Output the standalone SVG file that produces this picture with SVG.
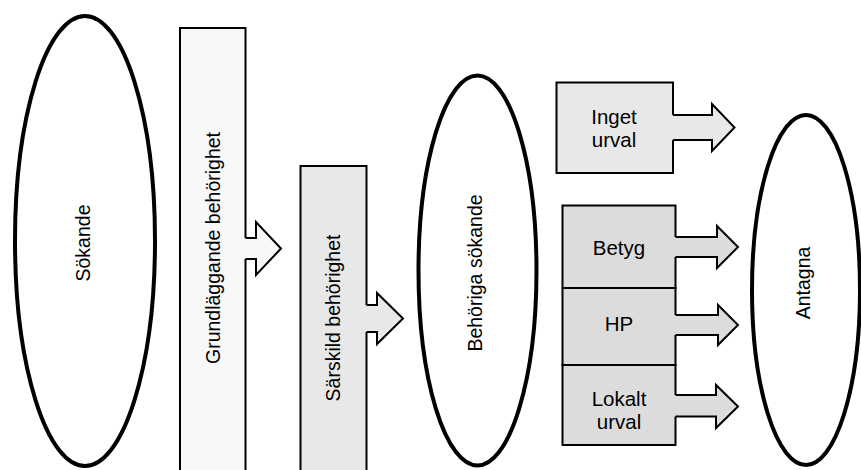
<svg xmlns="http://www.w3.org/2000/svg" width="861" height="470" viewBox="0 0 861 470">
<style>
.ell{fill:#fff;stroke:#000;stroke-width:4}
.box{stroke:#000;stroke-width:2}
.t{font-family:"Liberation Sans",Arial,sans-serif;font-size:19.5px;fill:#000;text-anchor:middle}
.h{font-size:20.5px}
.f1{fill:#f8f8f8}
.f2{fill:#e8e8e8}
.f3{fill:#dcdcdc}
.afill{stroke:none}
.aline{fill:none;stroke:#000;stroke-width:2;stroke-linejoin:miter}
</style>
<rect width="861" height="470" fill="#fff"/>
<g id="sokande">
<ellipse class="ell" cx="85" cy="241" rx="70" ry="225"/>
<text class="t" transform="translate(90,243) rotate(-90)">Sökande</text>
</g>
<g id="grund">
<rect class="box f1" x="180" y="28" width="65.5" height="460"/>
<text class="t" transform="translate(220,248) rotate(-90)">Grundläggande behörighet</text>
</g>
<g id="sarskild">
<rect class="box f2" x="300.5" y="166" width="66" height="320"/>
<text class="t" transform="translate(340,318) rotate(-90)">Särskild behörighet</text>
</g>
<g id="behoriga">
<ellipse class="ell" cx="477.5" cy="270.5" rx="59" ry="195"/>
<text class="t" transform="translate(482,273) rotate(-90)">Behöriga sökande</text>
</g>
<g id="inget">
<rect class="box f2" x="556.5" y="82.5" width="116.5" height="90.5"/>
<text class="t h" x="614" y="124">Inget</text>
<text class="t h" x="614" y="146.5">urval</text>
</g>
<g id="betyg">
<rect class="box f3" x="562.5" y="205.5" width="113" height="82.5"/>
<text class="t h" x="619" y="254.5">Betyg</text>
</g>
<g id="hp">
<rect class="box f3" x="562.5" y="288" width="113" height="77"/>
<text class="t h" x="619" y="331">HP</text>
</g>
<g id="lokalt">
<rect class="box f3" x="562.5" y="365" width="113" height="80"/>
<text class="t h" x="619" y="406">Lokalt</text>
<text class="t h" x="619" y="428.5">urval</text>
</g>
<g id="antagna">
<ellipse class="ell" cx="806" cy="290" rx="54" ry="175"/>
<text class="t" transform="translate(810,283) rotate(-90)">Antagna</text>
</g>
<g id="connectors">
<polygon class="afill f1" points="243,238 256,238 256,222 281,248.5 256,275 256,259 243,259"/>
<polyline class="aline" points="245.5,238 256,238 256,222 281,248.5 256,275 256,259 245.5,259"/>
<polygon class="afill f2" points="364.5,305 377,305 377,293 403,318.5 377,344 377,332 364.5,332"/>
<polyline class="aline" points="366.5,305 377,305 377,293 403,318.5 377,344 377,332 366.5,332"/>
<polygon class="afill f2" points="671,115 712,115 712,104 734.5,127.5 712,151 712,140 671,140"/>
<polyline class="aline" points="673,115 712,115 712,104 734.5,127.5 712,151 712,140 673,140"/>
<polygon class="afill f3" points="673.5,237 717,237 717,226 738,247 717,268 717,257 673.5,257"/>
<polyline class="aline" points="675.5,237 717,237 717,226 738,247 717,268 717,257 675.5,257"/>
<polygon class="afill f3" points="673.5,315 718,315 718,305 738,325 718,345 718,335 673.5,335"/>
<polyline class="aline" points="675.5,315 718,315 718,305 738,325 718,345 718,335 675.5,335"/>
<polygon class="afill f3" points="673.5,395 716,395 716,385 738,406.5 716,428 716,416.5 673.5,416.5"/>
<polyline class="aline" points="675.5,395 716,395 716,385 738,406.5 716,428 716,416.5 675.5,416.5"/>
</g>
</svg>
